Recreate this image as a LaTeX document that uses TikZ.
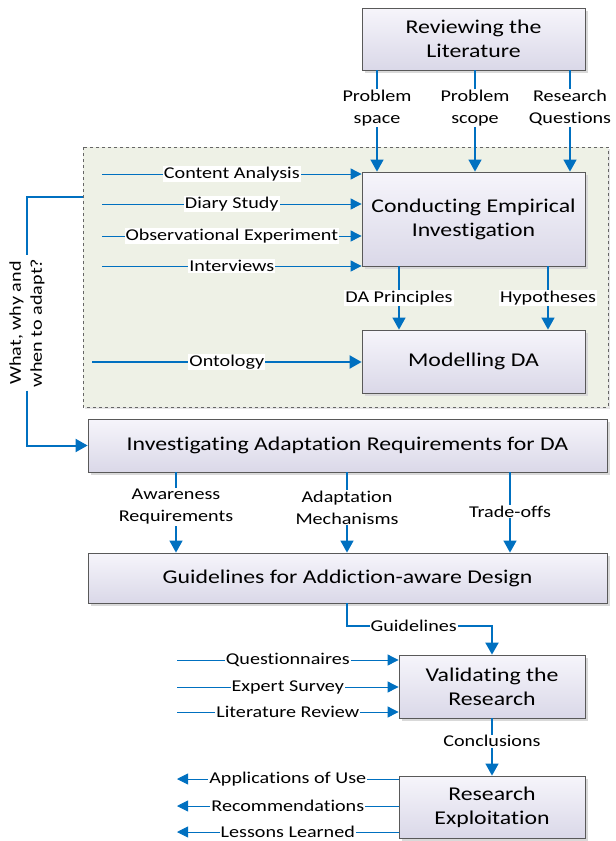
\documentclass[tikz,border=0pt]{standalone}
\usepackage{fontspec}
\setmainfont{Carlito}[FakeStretch=1.22, Ligatures=NoCommon]
\usetikzlibrary{arrows.meta,shadows}
\definecolor{flowblue}{RGB}{0,112,192}
\definecolor{boxtop}{RGB}{246,245,251}
\definecolor{boxbot}{RGB}{218,216,232}
\definecolor{areagreen}{RGB}{238,241,230}
\tikzset{
  stagebox/.style={draw=black!65, line width=0.8pt, top color=boxtop, bottom color=boxbot,
    drop shadow={shadow xshift=3pt, shadow yshift=-3pt, fill=black!15, opacity=1},
    align=center, inner sep=0pt, font=\fontsize{19.5}{24}\selectfont},
  flow/.style={flowblue, line width=1.3pt, -{Triangle[length=12pt,width=13pt]}},
  thinflow/.style={flow, line width=0.9pt, -{Triangle[length=11pt,width=11pt]}},
  thickflow/.style={flow, line width=2pt},
  lbl/.style={fill=white, inner sep=1pt, align=center, text=black, font=\fontsize{16.5}{22}\selectfont}
}
\begin{document}
\begin{tikzpicture}[x=1pt,y=-1pt]
\useasboundingbox (0,0) rectangle (616,841);
% empirical area
\draw[black!60, dashed, fill=areagreen, drop shadow={shadow xshift=2pt, shadow yshift=-2pt, fill=black!10, opacity=1}] (83,147) rectangle (608,407);
% stages
\node[stagebox, minimum width=223pt, minimum height=62pt] (lit) at (473.5,39) {Reviewing the\\Literature};
\node[stagebox, minimum width=223pt, minimum height=94pt] (emp) at (473.5,219) {Conducting Empirical\\Investigation};
\node[stagebox, minimum width=223pt, minimum height=63pt] (mod) at (473.5,361.5) {Modelling DA};
\node[stagebox, minimum width=519pt, minimum height=53pt] (req) at (347.5,445.5) {Investigating Adaptation Requirements for DA};
\node[stagebox, minimum width=519pt, minimum height=50pt] (gui) at (347.5,578) {Guidelines for Addiction-aware Design};
\node[stagebox, minimum width=186pt, minimum height=63pt] (val) at (492,686.5) {Validating the\\Research};
\node[stagebox, minimum width=186pt, minimum height=62pt] (exp) at (492,807) {Research\\Exploitation};
% literature outputs
\coordinate (ps) at (377,0);
\coordinate (pc) at (475,0);
\coordinate (rq) at (570,0);
\draw[flow] (lit.south -| ps) -- node[lbl, pos=0.37]{Problem\\space} (emp.north -| ps);
\draw[flow] (lit.south -| pc) -- node[lbl, pos=0.37]{Problem\\scope} (emp.north -| pc);
\draw[flow] (lit.south -| rq) -- node[lbl, pos=0.37]{Research\\Questions} (emp.north -| rq);
% empirical inputs
\coordinate (ca) at (102,174);
\coordinate (ds) at (102,204);
\coordinate (oe) at (102,236);
\coordinate (iv) at (102,266);
\coordinate (on) at (92,362);
\draw[thinflow] (ca) -- node[lbl]{Content Analysis} (ca -| emp.west);
\draw[thinflow] (ds) -- node[lbl]{Diary Study} (ds -| emp.west);
\draw[thinflow] (oe) -- node[lbl]{Observational Experiment} (oe -| emp.west);
\draw[thinflow] (iv) -- node[lbl]{Interviews} (iv -| emp.west);
\draw[thickflow] (on) -- node[lbl]{Ontology} (on -| mod.west);
% empirical outputs
\coordinate (dp) at (399,0);
\coordinate (hy) at (548,0);
\draw[flow] (emp.south -| dp) -- node[lbl]{DA Principles} (mod.north -| dp);
\draw[flow] (emp.south -| hy) -- node[lbl]{Hypotheses} (mod.north -| hy);
% what, why and when
\coordinate (br) at (27,197);
\node[rotate=90, align=center, font=\fontsize{16.5}{21}\selectfont] (wwq) at (27,323) {What, why and\\when to adapt?};
\draw[flowblue, line width=2pt] (83,197) -- (br) -- (wwq.east -| br);
\draw[thickflow] (wwq.west -| br) |- (req.west);
% requirements outputs
\coordinate (aw) at (176,0);
\coordinate (am) at (347,0);
\coordinate (to) at (510,0);
\draw[flow] (req.south -| aw) -- node[lbl, pos=0.43]{Awareness\\Requirements} (gui.north -| aw);
\draw[flow] (req.south -| am) -- node[lbl, pos=0.44]{Adaptation\\Mechanisms} (gui.north -| am);
\draw[flow] (req.south -| to) -- node[lbl, pos=0.49]{Trade-offs} (gui.north -| to);
% guidelines
\coordinate (gk) at (347,626);
\draw[thickflow] (gui.south -| gk) -- (gk) -- node[lbl, pos=0.46]{Guidelines} (gk -| val.north) -- (val.north);
% validation inputs
\coordinate (qn) at (177,660);
\coordinate (es) at (177,687);
\coordinate (lr) at (177,712);
\draw[thinflow] (qn) -- node[lbl]{Questionnaires} (qn -| val.west);
\draw[thinflow] (es) -- node[lbl]{Expert Survey} (es -| val.west);
\draw[thinflow] (lr) -- node[lbl]{Literature Review} (lr -| val.west);
% conclusions
\draw[flow] (val.south) -- node[lbl, pos=0.4]{Conclusions} (exp.north);
% exploitation outputs
\coordinate (au) at (177,779);
\coordinate (rc) at (177,806);
\coordinate (ll) at (177,832);
\draw[thinflow] (au -| exp.west) -- node[lbl]{Applications of Use} (au);
\draw[thinflow] (rc -| exp.west) -- node[lbl]{Recommendations} (rc);
\draw[thinflow] (ll -| exp.west) -- node[lbl]{Lessons Learned} (ll);
\end{tikzpicture}
\end{document}
